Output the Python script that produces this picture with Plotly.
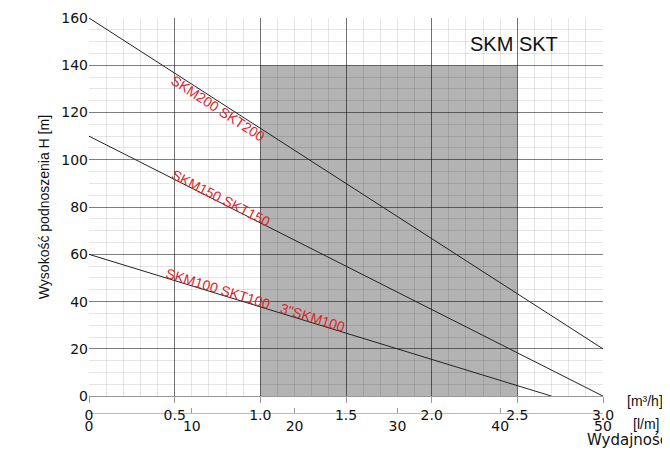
import plotly.graph_objects as go

q_m3h = [0, 3.0]
h_skm200 = [160, 20]
h_skm150 = [110, 0]
q_skm100 = [0, 2.7]
h_skm100 = [60, 0]
lpm_ticks = [0, 10, 20, 30, 40, 50]

FONT = "DejaVu Sans"
RED = "#d9262b"

fig = go.Figure()
fig.add_shape(type="rect", x0=1.0, x1=2.5, y0=0, y1=140, fillcolor="#b3b3b3",
              line_width=0, layer="below")
for xs, ys in [(q_m3h, h_skm200), (q_m3h, h_skm150), (q_skm100, h_skm100)]:
    fig.add_trace(go.Scatter(x=xs, y=ys, mode="lines", line=dict(color="#222", width=1),
                             showlegend=False))
fig.add_trace(go.Scatter(x=[None], y=[None], xaxis="x2", showlegend=False))

for txt, x, y, ang in [("SKM200 SKT200", 0.75, 122, 33),
                       ("SKM150 SKT150", 0.77, 84, 27),
                       ("SKM100 SKT100   3\"SKM100", 0.97, 40.5, 17)]:
    fig.add_annotation(x=x, y=y, text=txt, textangle=ang, showarrow=False,
                       font=dict(family="Liberation Sans", size=14, color=RED))
fig.add_annotation(x=2.48, y=149, text="SKM SKT", showarrow=False,
                   font=dict(family="Liberation Sans", size=20, color="#111"))
fig.add_annotation(x=1.043, xref="paper", xanchor="left", y=0.055, yref="paper",
                   text="[m³/h]", showarrow=False, font=dict(family="Liberation Sans", size=14, color="#111"))
fig.add_annotation(x=1.055, xref="paper", xanchor="left", y=0.0, yref="paper",
                   text="[l/m]", showarrow=False, font=dict(family="Liberation Sans", size=14, color="#111"))
fig.add_annotation(x=1.13, xref="paper", xanchor="right", y=-0.04, yref="paper",
                   text="Wydajność", showarrow=False, font=dict(family=FONT, size=15, color="#111"))

grid_minor = dict(showgrid=True, gridcolor="rgba(0,0,0,0.1)", gridwidth=1)
fig.update_layout(
    width=670, height=456, plot_bgcolor="white", paper_bgcolor="white",
    margin=dict(l=81, r=75, t=10, b=30),
    font=dict(family=FONT, size=14, color="#111"),
    xaxis=dict(range=[0, 3.0], tickvals=[0, 0.5, 1.0, 1.5, 2.0, 2.5, 3.0],
               ticktext=["0", "0.5", "1.0", "1.5", "2.0", "2.5", "3.0"],
               showgrid=True, gridcolor="rgba(0,0,0,0.5)", gridwidth=1, zeroline=False,
               minor=dict(dtick=0.1, **grid_minor), automargin=False,
               showline=True, linecolor="#999", ticks="outside", ticklen=6, tickcolor="#999",
               anchor="y"),
    xaxis2=dict(range=[0, 50], overlaying="x", side="bottom", anchor="free", position=0.05,
                tickvals=lpm_ticks, ticktext=["0", "10", "20", "30", "40", "50"],
                showgrid=False, zeroline=False, showline=True, linecolor="#bbb", automargin=False,
                ticks="inside", ticklen=5, tickcolor="#999"),
    yaxis=dict(range=[0, 160], dtick=20, domain=[0.091, 1], automargin=False,
               showgrid=True, gridcolor="rgba(0,0,0,0.5)", gridwidth=1, zeroline=False,
               minor=dict(dtick=5, **grid_minor), showline=False,
               title=dict(text="Wysokość podnoszenia H [m]", font=dict(family="Liberation Sans", size=14), standoff=8)),
)
fig.write_html("out.html")
